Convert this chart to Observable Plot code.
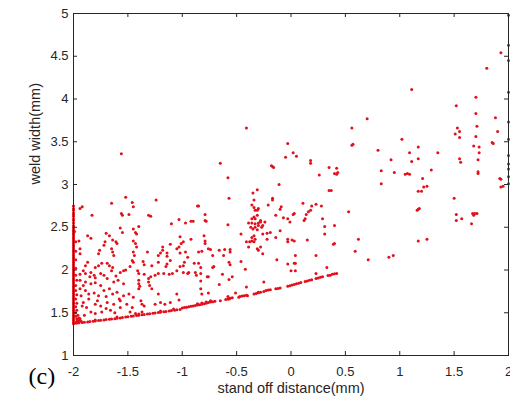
<!DOCTYPE html>
<html><head><meta charset="utf-8">
<script src="https://cdn.jsdelivr.net/npm/d3@7"></script>
<script src="https://cdn.jsdelivr.net/npm/@observablehq/plot@0.6"></script>
<style>
html,body{margin:0;padding:0;background:#fff;}
#chart{width:510px;height:401px;overflow:hidden;}
</style></head><body><div id="chart"></div>
<script>
const xTicks = [-2, -1.5, -1, -0.5, 0, 0.5, 1, 1.5, 2];
const yTicks = [1, 1.5, 2, 2.5, 3, 3.5, 4, 4.5, 5];
const xLabel = "stand off distance(mm)";
const yLabel = "weld width(mm)";
const panelLabel = "(c)";

// points sitting on x = -2
const leftEdgeY = [2.75,2.72,2.70,2.67,2.65,2.63,2.60,2.58,2.55,2.52,2.50,2.48,2.46,2.45,2.43,2.41,2.39,2.37,2.35,2.33,2.31,2.29,2.27,2.25,2.23,2.21,2.19,2.17,2.15,2.13,2.11,2.09,2.07,2.05,2.03,2.01,1.99,1.97,1.95,1.93,1.91,1.89,1.87,1.85,1.83,1.81,1.79,1.77,1.75,1.73,1.71,1.69,1.67,1.65,1.63,1.61,1.59,1.57,1.55,1.53,1.51,1.49,1.47,1.45,1.43,1.41,1.39,1.37];
// thickening of the x = -2 column
const leftNear = [[-1.98,1.38],[-1.97,1.40],[-1.96,1.39],[-1.95,1.41],[-1.93,1.40],[-1.97,1.43],[-1.95,1.44],[-1.98,1.46],[-1.96,1.47],[-1.94,1.43],[-1.98,1.50],[-1.97,1.53],[-1.98,1.57],[-1.97,1.61],[-1.98,1.66],[-1.97,1.71],[-1.98,1.76],[-1.98,1.82],[-1.97,1.88],[-1.98,1.94],[-1.98,2.02],[-1.98,2.12],[-1.98,2.22],[-1.98,2.33],[-1.99,2.45]];
// points sitting on x = 2
const rightEdgeY = [4.98,4.63,4.45,4.08,3.73,3.53,3.34,3.24,3.18,3.09,3.01];
// lower boundary band
const boundary = [[-1.97,1.38],[-1.95,1.383],[-1.92,1.386],[-1.90,1.39],[-1.87,1.393],[-1.85,1.397],[-1.82,1.40],[-1.80,1.404],[-1.77,1.408],[-1.75,1.411],[-1.72,1.415],[-1.70,1.42],[-1.67,1.423],[-1.65,1.427],[-1.62,1.431],[-1.60,1.435],[-1.57,1.44],[-1.55,1.444],[-1.52,1.449],[-1.50,1.453],[-1.47,1.458],[-1.45,1.462],[-1.42,1.467],[-1.40,1.471],[-1.37,1.476],[-1.35,1.48],[-1.32,1.485],[-1.30,1.489],[-1.27,1.494],[-1.25,1.498],[-1.22,1.503],[-1.20,1.507],[-1.17,1.512],[-1.15,1.516],[-1.12,1.521],[-1.10,1.525],[-1.07,1.53],[-1.05,1.534],[-1.02,1.539],
[-1.80,1.415],[-1.60,1.45],[-1.40,1.485],[-1.20,1.52],[-1.08,1.545],
[-1.00,1.555],[-0.98,1.56],[-0.96,1.565],[-0.94,1.57],[-0.92,1.575],[-0.90,1.58],
[-0.88,1.585],[-0.86,1.59],[-0.84,1.595],[-0.82,1.60],[-0.80,1.605],[-0.78,1.61],[-0.76,1.62],[-0.74,1.625],[-0.72,1.63],[-0.70,1.635],[-0.86,1.605],[-0.82,1.615],[-0.78,1.625],[-0.74,1.64],
[-0.60,1.655],[-0.58,1.66],[-0.56,1.67],[-0.54,1.675],
[-0.47,1.69],[-0.45,1.695],[-0.43,1.70],[-0.41,1.705],
[-0.34,1.72],[-0.32,1.725],[-0.30,1.735],[-0.28,1.74],
[-0.25,1.75],[-0.23,1.76],[-0.21,1.765],[-0.19,1.77],
[-0.14,1.78],[-0.12,1.785],[-0.10,1.79],
[-0.03,1.81],[-0.01,1.815],[0.01,1.825],[0.03,1.83],[0.05,1.84],[0.07,1.845],[0.09,1.855],
[0.13,1.865],[0.15,1.87],[0.17,1.88],[0.19,1.885],
[0.23,1.90],[0.25,1.905],[0.27,1.915],[0.29,1.92],
[0.34,1.935],[0.36,1.94],[0.38,1.95],[0.40,1.955],[0.42,1.96]];
// scattered points, x < -1
const scatterLeft = [[-1.92,2.74],[-1.94,2.72],[-1.83,2.64],[-1.65,2.78],[-1.45,2.74],[-1.46,2.79],[-1.52,2.85],[-1.24,2.82],[-1.56,3.36],
[-1.56,2.66],[-1.55,2.64],[-1.49,2.65],[-1.29,2.63],[-1.31,2.64],[-1.10,2.54],[-1.40,2.51],
[-1.57,2.49],[-1.55,2.44],[-1.45,2.48],[-1.43,2.44],[-1.42,2.42],[-1.70,2.43],[-1.67,2.40],[-1.64,2.35],
[-1.87,2.40],[-1.84,2.37],[-1.61,2.33],[-1.60,2.31],[-1.95,2.34],[-1.71,2.33],[-1.72,2.29],
[-1.45,2.34],[-1.43,2.31],[-1.42,2.27],[-1.11,2.30],[-1.03,2.27],[-1.18,2.27],[-1.18,2.23],[-1.20,2.20],[-1.22,2.17],
[-1.65,2.25],[-1.64,2.21],[-1.63,2.17],[-1.76,2.23],[-1.77,2.19],[-1.94,2.25],[-1.94,2.19],
[-1.45,2.21],[-1.44,2.17],[-1.46,2.11],[-1.45,2.09],[-1.32,2.21],[-1.36,2.10],[-1.35,2.06],
[-1.14,2.20],[-1.14,2.16],[-1.11,2.11],[-1.14,2.07],[-1.15,2.04],[-1.22,2.09],[-1.28,2.05],
[-1.74,2.08],[-1.77,2.05],[-1.80,2.03],[-1.87,2.09],[-1.89,2.05],[-1.91,1.99],
[-1.69,2.08],[-1.67,2.05],[-1.64,2.03],[-1.65,1.99],[-1.54,1.99],[-1.52,2.00],[-1.57,1.97],[-1.48,2.04],
[-1.41,1.99],[-1.40,1.96],[-1.22,1.96],[-1.17,1.96],[-1.12,1.95],[-1.09,1.96],[-1.05,1.99],[-1.29,1.92],
[-1.84,1.97],[-1.81,1.94],[-1.80,1.91],[-1.72,1.94],[-1.69,1.90],[-1.94,1.95],[-1.89,1.96],[-1.75,1.96],[-1.61,1.93],[-1.35,1.95],[-1.25,1.94],
[-1.94,1.88],[-1.89,1.86],[-1.84,1.84],[-1.80,1.85],[-1.75,1.82],[-1.63,1.86],[-1.59,1.88],[-1.54,1.84],
[-1.40,1.88],[-1.40,1.84],[-1.39,1.81],[-1.40,1.78],[-1.31,1.90],[-1.31,1.86],[-1.30,1.82],
[-1.94,1.78],[-1.89,1.76],[-1.86,1.72],[-1.81,1.73],[-1.77,1.70],[-1.72,1.76],[-1.67,1.78],[-1.64,1.72],[-1.60,1.74],
[-1.54,1.70],[-1.49,1.72],[-1.45,1.68],[-1.28,1.78],[-1.22,1.72],[-1.11,1.62],[-1.03,1.65],
[-1.38,1.64],[-1.37,1.60],[-1.35,1.58],[-1.91,1.62],[-1.92,1.58],[-1.88,1.56],
[-1.80,1.60],[-1.75,1.58],[-1.69,1.62],[-1.63,1.60],[-1.57,1.56],[-1.51,1.60],[-1.46,1.56],
[-1.25,1.60],[-1.20,1.62],[-1.16,1.60],[-1.84,1.51],[-1.80,1.49],[-1.74,1.51],[-1.66,1.53],
[-1.48,1.51],[-1.43,1.49],[-1.37,1.51],[-1.58,1.66],[-1.57,1.64],
[-1.90,1.47],[-1.86,1.66],[-1.78,1.64],[-1.70,1.55],[-1.62,1.50],[-1.93,1.70],[-1.91,1.82],[-1.85,1.92],[-1.70,1.69]];
// scattered points, -1 <= x < 0.5
const scatterMid = [[-1.02,2.39],[-0.99,2.33],[-1.01,2.31],[-0.92,2.36],[-0.97,2.55],[-0.92,2.57],[-0.90,2.57],[-1.03,2.59],[-1.05,2.25],[-0.97,2.21],[-0.95,2.15],[-1.02,2.20],[-0.98,2.09],[-0.99,2.05],[-1.02,2.04],
[-0.99,1.97],[-0.95,1.96],[-0.94,1.97],[-1.05,1.72],
[-0.86,2.75],[-0.85,2.75],[-0.79,2.65],[-0.79,2.58],[-0.78,2.57],[-0.80,2.40],[-0.79,2.34],[-0.79,2.31],
[-0.76,2.25],[-0.74,2.24],[-0.66,2.23],[-0.61,2.24],[-0.56,2.24],[-0.56,2.21],[-0.85,2.21],[-0.82,2.22],
[-0.62,2.17],[-0.72,2.17],[-0.89,2.08],[-0.85,2.08],[-0.83,2.03],[-0.71,2.04],[-0.72,2.03],[-0.57,2.09],[-0.56,2.06],[-0.46,2.10],[-0.42,2.01],
[-0.88,1.97],[-0.87,1.94],[-0.83,1.96],[-0.77,1.92],[-0.76,1.92],[-0.63,1.95],[-0.57,1.89],[-0.54,1.92],[-0.83,1.87],[-0.66,1.83],
[-0.83,1.78],[-0.41,1.80],[-0.82,1.72],[-0.76,1.73],[-0.51,1.73],[-0.48,1.68],[-0.30,1.74],[-0.40,1.70],[-0.58,1.69],[-0.57,1.66],[-0.65,1.64],[-0.25,1.86],
[-0.58,2.53],[-0.58,3.08],[-0.65,3.25],[-0.41,3.66],[-0.57,2.84],[-0.35,2.90],[-0.34,2.82],[-0.31,2.94],
[-0.36,2.76],[-0.34,2.73],[-0.33,2.70],[-0.31,2.70],[-0.30,2.72],[-0.21,2.76],[-0.09,2.74],[-0.10,2.71],[-0.14,2.64],
[-0.34,2.62],[-0.36,2.60],[-0.33,2.60],[-0.31,2.64],[-0.28,2.58],[-0.07,2.61],[-0.03,2.60],
[-0.39,2.55],[-0.36,2.55],[-0.33,2.54],[-0.30,2.55],[-0.28,2.56],[-0.24,2.56],[-0.37,2.50],[-0.35,2.48],[-0.31,2.47],[-0.27,2.50],[-0.26,2.52],[-0.30,2.52],[-0.33,2.50],
[-0.01,2.56],[-0.19,2.44],[-0.22,2.43],[-0.10,2.46],[-0.46,2.42],[-0.26,2.42],
[-0.34,2.40],[-0.36,2.38],[-0.33,2.36],[-0.36,2.34],[-0.38,2.33],[-0.34,2.33],[-0.22,2.36],[-0.14,2.38],[-0.03,2.36],[-0.03,2.33],[0.01,2.35],[0.03,2.34],
[-0.41,2.33],[-0.39,2.27],[-0.31,2.25],[-0.30,2.23],[-0.28,2.27],[-0.26,2.19],[-0.13,2.12],
[-0.17,2.84],[-0.17,2.82],[-0.11,3.00],[-0.17,3.21],[-0.16,3.20],[-0.18,3.22],[-0.05,3.32],[-0.03,3.48],[0.02,3.37],[0.05,3.33],
[-0.03,2.07],[0.03,2.08],[0.00,1.99],[0.04,1.99],[0.04,2.08],[0.04,2.17],
[0.03,2.66],[0.02,2.65],[0.11,2.78],[0.19,2.75],[0.23,2.77],[0.28,2.75],[0.18,2.70],[0.16,2.68],[0.14,2.65],[0.13,2.60],[0.12,2.58],[0.29,2.60],[0.31,2.51],[0.40,2.52],[0.15,2.35],[0.39,2.30],[0.40,2.31],[0.31,2.42],[0.23,2.17],[0.33,2.03],[0.23,1.96],
[0.18,3.28],[0.18,3.25],[0.35,3.20],[0.42,3.19],[0.40,3.13],[0.42,3.12],[0.43,3.14],[0.26,3.11],[0.35,2.93],[0.37,2.93]];
// scattered points, x >= 0.5
const scatterRight = [[0.53,2.68],[0.62,2.36],[0.59,2.22],[0.71,2.12],[0.90,2.15],[0.94,2.17],
[0.56,3.66],[0.56,3.46],[0.57,3.47],[0.70,3.77],[0.80,3.40],[0.83,3.16],[0.83,3.01],[0.92,3.29],[0.95,3.14],
[1.02,3.53],[1.05,3.12],[1.07,3.13],[1.09,3.12],[1.09,3.37],[1.11,3.27],[1.11,4.11],[1.17,3.30],[1.17,3.44],[1.17,2.92],[1.20,2.92],[1.21,3.07],[1.22,2.97],[1.25,2.98],[1.29,3.17],[1.35,3.37],
[1.18,2.72],[1.16,2.70],[1.17,2.71],[1.17,2.34],[1.25,2.36],
[1.50,2.84],[1.52,2.65],[1.57,2.60],[1.52,2.58],[1.67,2.66],[1.69,2.66],[1.71,2.66],[1.68,2.64],[1.66,2.54],
[1.52,3.92],[1.53,3.66],[1.55,3.62],[1.51,3.59],[1.55,3.55],[1.55,3.30],[1.56,3.26],
[1.68,3.45],[1.70,3.56],[1.70,3.83],[1.70,4.02],[1.71,3.68],[1.72,3.29],[1.72,3.13],[1.72,3.15],[1.73,3.37],[1.73,3.44],
[1.80,4.36],[1.85,3.49],[1.86,3.48],[1.88,3.78],[1.90,3.62],[1.92,3.07],[1.93,3.06],[1.93,2.97],[1.95,2.98],[1.93,4.54]];

const pts = [
  ...leftEdgeY.map(y => ({x: -2, y})),
  ...rightEdgeY.map(y => ({x: 2, y})),
  ...[...leftNear, ...boundary, ...scatterLeft, ...scatterMid, ...scatterRight].map(([x, y]) => ({x, y}))
];

const W = 510, H = 401, ML = 73, MR = 2, MT = 13, MB = 46;
const PW = W - ML - MR, PH = H - MT - MB, TL = 4;
const ink = "#262626";

const chart = Plot.plot({
  width: W, height: H,
  marginLeft: ML, marginRight: MR, marginTop: MT, marginBottom: MB,
  style: {fontFamily: "'Liberation Sans', Arial, Helvetica, sans-serif", fontSize: "13px", color: ink, background: "#fff"},
  x: {domain: [-2, 2]},
  y: {domain: [1, 5]},
  marks: [
    Plot.dot(pts, {x: "x", y: "y", r: 1.5, fill: "#e3101c", stroke: "none"}),
    Plot.frame({stroke: ink, strokeWidth: 1}),
    Plot.tickX(xTicks, {x: d => d, insetTop: PH - TL, stroke: ink}),
    Plot.tickX(xTicks, {x: d => d, insetBottom: PH - TL, stroke: ink}),
    Plot.tickY(yTicks, {y: d => d, insetRight: PW - TL, stroke: ink}),
    Plot.tickY(yTicks, {y: d => d, insetLeft: PW - TL, stroke: ink}),
    Plot.axisX(xTicks, {tickSize: 0, tickPadding: 11, label: null, tickFormat: d => String(d), fill: ink, fontSize: 13}),
    Plot.axisY(yTicks, {tickSize: 0, tickPadding: 5, label: null, tickFormat: d => String(d), fill: ink, fontSize: 13}),
    Plot.text([xLabel], {text: d => d, frameAnchor: "bottom", dy: 37, fontSize: 14.5, fill: ink}),
    Plot.text([yLabel], {text: d => d, frameAnchor: "left", rotate: -90, dx: -38, fontSize: 14.5, fill: ink}),
    Plot.text([panelLabel], {text: d => d, frameAnchor: "bottom-left", dx: -45, dy: 28, fontSize: 24, fill: "#000", fontFamily: "'Liberation Serif', 'Times New Roman', serif"})
  ]
});
document.getElementById("chart").appendChild(chart);
</script>
</body></html>
